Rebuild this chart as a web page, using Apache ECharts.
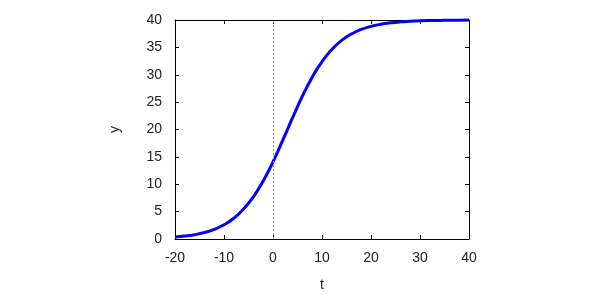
<!DOCTYPE html>
<html>
<head>
<meta charset="utf-8">
<script src="https://cdn.jsdelivr.net/npm/echarts@6/dist/echarts.min.js"></script>
<style>html,body{margin:0;padding:0;background:#fff;}#c{width:600px;height:300px;}</style>
</head>
<body>
<div id="c"></div>
<script>
const tValues = [-20,-18,-16,-14,-12,-10,-8,-6,-4,-2,0,2,4,6,8,10,12,14,16,18,20,22,24,26,28,30,32,34,36,38,40];
const yValues = [0.35,0.53,0.79,1.18,1.75,2.60,3.79,5.46,7.71,10.61,14.10,18.05,22.15,26.08,29.56,32.41,34.63,36.27,37.45,38.28,38.84,39.22,39.48,39.66,39.77,39.85,39.90,39.93,39.96,39.97,39.98];
const xTicks = {min: -20, max: 40, interval: 10};
const yTicks = {min: 0, max: 40, interval: 5};
const xName = 't';
const yName = 'y';
const refLineT = 0;

const font = 'Liberation Sans';
const axisLine = {show: true, onZero: false, lineStyle: {color: '#000', width: 1}};
const tick = {show: true, inside: true, length: 4, lineStyle: {color: '#000', width: 1}};

const chart = echarts.init(document.getElementById('c'), null, {renderer: 'canvas'});
chart.setOption({
  animation: false,
  backgroundColor: '#fff',
  grid: {left: 175, right: 131, top: 20, bottom: 61, containLabel: false},
  xAxis: [
    {type: 'value', position: 'bottom', min: xTicks.min, max: xTicks.max, interval: xTicks.interval,
     name: xName, nameLocation: 'middle', nameGap: 39,
     nameTextStyle: {fontFamily: font, fontSize: 14, color: '#222'},
     axisLine: axisLine, axisTick: tick, splitLine: {show: false},
     axisLabel: {fontFamily: font, fontSize: 14, color: '#222', margin: 12}},
    {type: 'value', position: 'top', min: xTicks.min, max: xTicks.max, interval: xTicks.interval,
     axisLine: axisLine, axisTick: tick, splitLine: {show: false}, axisLabel: {show: false}}
  ],
  yAxis: [
    {type: 'value', position: 'left', min: yTicks.min, max: yTicks.max, interval: yTicks.interval,
     name: yName, nameLocation: 'middle', nameGap: 53, nameRotate: 90,
     nameTextStyle: {fontFamily: font, fontSize: 14, color: '#222'},
     axisLine: axisLine, axisTick: tick, splitLine: {show: false},
     axisLabel: {fontFamily: font, fontSize: 14, color: '#222', margin: 13}},
    {type: 'value', position: 'right', min: yTicks.min, max: yTicks.max, interval: yTicks.interval,
     axisLine: axisLine, axisTick: tick, splitLine: {show: false}, axisLabel: {show: false}}
  ],
  series: [{
    type: 'line',
    xAxisIndex: 0, yAxisIndex: 0,
    data: tValues.map((t, i) => [t, yValues[i]]),
    showSymbol: false,
    smooth: true,
    clip: false,
    lineStyle: {color: '#0000ff', width: 3},
    itemStyle: {color: '#0000ff'},
    markLine: {
      silent: true,
      symbol: ['none', 'none'],
      label: {show: false},
      lineStyle: {color: '#999', type: [2, 2], width: 1},
      data: [{xAxis: refLineT}]
    },
    z: 3
  }]
});
</script>
</body>
</html>
